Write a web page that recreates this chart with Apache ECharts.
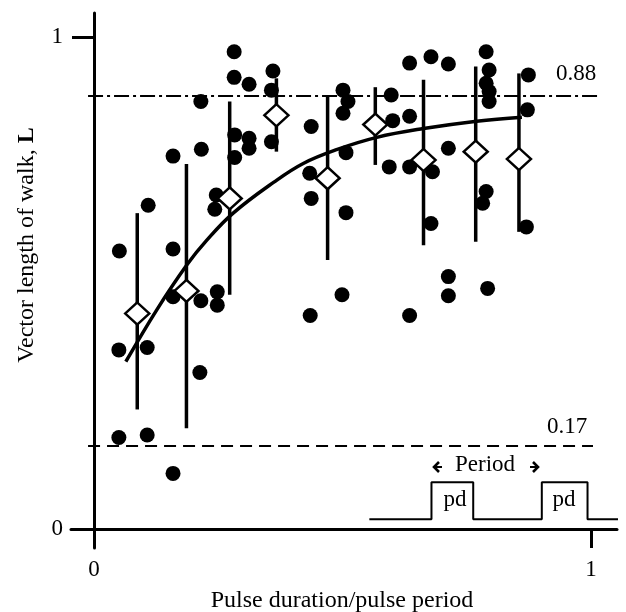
<!DOCTYPE html>
<html>
<head>
<meta charset="utf-8">
<script src="https://cdn.jsdelivr.net/npm/echarts@6/dist/echarts.min.js"></script>
<style>
  html, body { margin: 0; padding: 0; background: #fff; }
  #chart { width: 626px; height: 612px; }
</style>
</head>
<body>
<div id="chart"></div>
<script>
// single walks (filled dots)
const dotX = [0.109, 0.051, 0.159, 0.246, 0.243, 0.159, 0.215, 0.248, 0.248, 0.050,
  0.107, 0.213, 0.050, 0.107, 0.159, 0.282, 0.282, 0.312, 0.360, 0.357,
  0.215, 0.216, 0.159, 0.283, 0.312, 0.312, 0.283, 0.357, 0.635, 0.678,
  0.713, 0.501, 0.511, 0.501, 0.598, 0.635, 0.601, 0.437, 0.507, 0.434,
  0.437, 0.507, 0.594, 0.635, 0.681, 0.713, 0.678, 0.713, 0.713, 0.499,
  0.435, 0.635, 0.789, 0.795, 0.789, 0.795, 0.795, 0.874, 0.872, 0.789,
  0.782, 0.870, 0.792]
const dotY = [0.658, 0.565, 0.569, 0.679, 0.650, 0.472, 0.464, 0.482, 0.455, 0.364,
  0.369, 0.318, 0.186, 0.191, 0.113, 0.970, 0.918, 0.904, 0.931, 0.892,
  0.869, 0.772, 0.758, 0.801, 0.794, 0.774, 0.755, 0.787, 0.947, 0.960,
  0.945, 0.892, 0.869, 0.845, 0.882, 0.839, 0.830, 0.818, 0.765, 0.723,
  0.672, 0.643, 0.736, 0.736, 0.726, 0.774, 0.621, 0.513, 0.474, 0.476,
  0.434, 0.434, 0.970, 0.933, 0.906, 0.889, 0.869, 0.923, 0.852, 0.686,
  0.662, 0.614, 0.489]

// means (open diamonds) and their bars
const meanX = [0.087, 0.186, 0.273, 0.367, 0.470, 0.566, 0.663, 0.768, 0.855]
const meanY = [0.438, 0.484, 0.672, 0.841, 0.713, 0.822, 0.750, 0.767, 0.752]
const barLow = [0.243, 0.205, 0.476, 0.767, 0.547, 0.740, 0.577, 0.584, 0.604]
const barHigh = [0.642, 0.742, 0.869, 0.916, 0.879, 0.898, 0.913, 0.940, 0.926]

// fitted curve, read along its path
const fitX = [0.064, 0.126, 0.187, 0.227, 0.280, 0.362, 0.421, 0.488, 0.569, 0.663, 0.770, 0.861]
const fitY = [0.340, 0.445, 0.537, 0.587, 0.642, 0.705, 0.743, 0.771, 0.796, 0.814, 0.829, 0.837]

// reference levels
const refLevels = [0.88, 0.17]
const refLabels = ['0.88', '0.17']

// pulse train sketch
const pulseX = [0.554, 0.679, 0.679, 0.763, 0.763, 0.901, 0.901, 0.993, 0.993, 1.058]
const pulseY = [0.020, 0.020, 0.095, 0.095, 0.020, 0.020, 0.095, 0.095, 0.020, 0.020]

const xTicks = [0, 1]
const yTicks = [0, 1]

const font = "'Liberation Serif', 'Times New Roman', serif"
const chart = echarts.init(document.getElementById('chart'))

function arrow(x, y, dir) {
  // small bold arrow head with a short shaft
  return {
    type: 'group', x: x, y: y,
    children: [
      { type: 'polyline', shape: { points: [[5 * dir, -5], [0, 0], [5 * dir, 5]] }, style: { stroke: '#000', lineWidth: 2.6, fill: null } },
      { type: 'line', shape: { x1: 0, y1: 0, x2: 8 * dir, y2: 0 }, style: { stroke: '#000', lineWidth: 2 } }
    ]
  }
}

chart.setOption({
  animation: false,
  backgroundColor: '#fff',
  grid: { left: 71, right: 9, top: 13, bottom: 64 },
  xAxis: {
    type: 'value',
    min: -0.0463,
    max: 1.0523,
    splitLine: { show: false },
    axisLine: { onZero: true, lineStyle: { color: '#000', width: 3 } },
    axisTick: { customValues: xTicks, length: 19, lineStyle: { color: '#000', width: 3 } },
    axisLabel: { customValues: xTicks, margin: 10, color: '#000', fontSize: 23, fontFamily: font }
  },
  yAxis: {
    type: 'value',
    min: -0.0386,
    max: 1.0488,
    splitLine: { show: false },
    axisLine: { onZero: true, lineStyle: { color: '#000', width: 3 } },
    axisTick: { customValues: yTicks, length: 22, lineStyle: { color: '#000', width: 3 } },
    axisLabel: { customValues: yTicks, margin: 8, color: '#000', fontSize: 23, fontFamily: font }
  },
  series: [
    {
      type: 'scatter',
      z: 2,
      symbol: 'circle',
      symbolSize: 15,
      itemStyle: { color: '#000', opacity: 1 },
      data: dotX.map((x, i) => [x, dotY[i]]),
      markLine: {
        silent: true,
        symbol: 'none',
        label: { show: false },
        data: [
          [{ coord: [-0.012, refLevels[0]], lineStyle: { color: '#000', width: 1.8, type: [15, 4, 3, 4] } }, { coord: [1.018, refLevels[0]] }],
          [{ coord: [-0.012, refLevels[1]], lineStyle: { color: '#000', width: 2, type: [12, 7] } }, { coord: [1.004, refLevels[1]] }]
        ]
      }
    },
    {
      type: 'custom',
      z: 3,
      data: meanX.map((x, i) => [x, barLow[i], barHigh[i]]),
      encode: { x: 0, y: [1, 2] },
      renderItem: function (params, api) {
        const lo = api.coord([api.value(0), api.value(1)])
        const hi = api.coord([api.value(0), api.value(2)])
        return {
          type: 'line',
          shape: { x1: lo[0], y1: lo[1], x2: hi[0], y2: hi[1] },
          style: { stroke: '#000', lineWidth: 3.5 }
        }
      }
    },
    {
      type: 'line',
      z: 4,
      smooth: 0.4,
      symbol: 'none',
      lineStyle: { color: '#000', width: 3.5 },
      data: fitX.map((x, i) => [x, fitY[i]])
    },
    {
      type: 'scatter',
      z: 5,
      symbol: 'diamond',
      symbolSize: [24, 22],
      itemStyle: { color: '#fff', borderColor: '#000', borderWidth: 2.5, opacity: 1 },
      data: meanX.map((x, i) => [x, meanY[i]])
    },
    {
      type: 'line',
      z: 2,
      clip: false,
      symbol: 'none',
      lineStyle: { color: '#000', width: 2 },
      data: pulseX.map((x, i) => [x, pulseY[i]])
    }
  ],
  graphic: [
    {
      type: 'text', x: 27, y: 245, rotation: Math.PI / 2,
      style: {
        text: 'Vector length of walk, {b|L}',
        font: '24px ' + font, fill: '#000', align: 'center', verticalAlign: 'middle',
        rich: { b: { fontWeight: 'bold', fontSize: 24, fontFamily: font } }
      }
    },
    {
      type: 'text', x: 342, y: 601,
      style: { text: 'Pulse duration/pulse period', font: '24px ' + font, fill: '#000', align: 'center', verticalAlign: 'middle' }
    },
    {
      type: 'text', x: 576, y: 74,
      style: { text: refLabels[0], font: '23px ' + font, fill: '#000', align: 'center', verticalAlign: 'middle' }
    },
    {
      type: 'text', x: 567, y: 427,
      style: { text: refLabels[1], font: '23px ' + font, fill: '#000', align: 'center', verticalAlign: 'middle' }
    },
    {
      type: 'text', x: 485, y: 465,
      style: { text: 'Period', font: '23px ' + font, fill: '#000', align: 'center', verticalAlign: 'middle' }
    },
    arrow(434, 467, 1),
    arrow(538, 467, -1),
    {
      type: 'text', x: 455, y: 500,
      style: { text: 'pd', font: '23px ' + font, fill: '#000', align: 'center', verticalAlign: 'middle' }
    },
    {
      type: 'text', x: 564, y: 500,
      style: { text: 'pd', font: '23px ' + font, fill: '#000', align: 'center', verticalAlign: 'middle' }
    }
  ]
})
</script>
</body>
</html>
